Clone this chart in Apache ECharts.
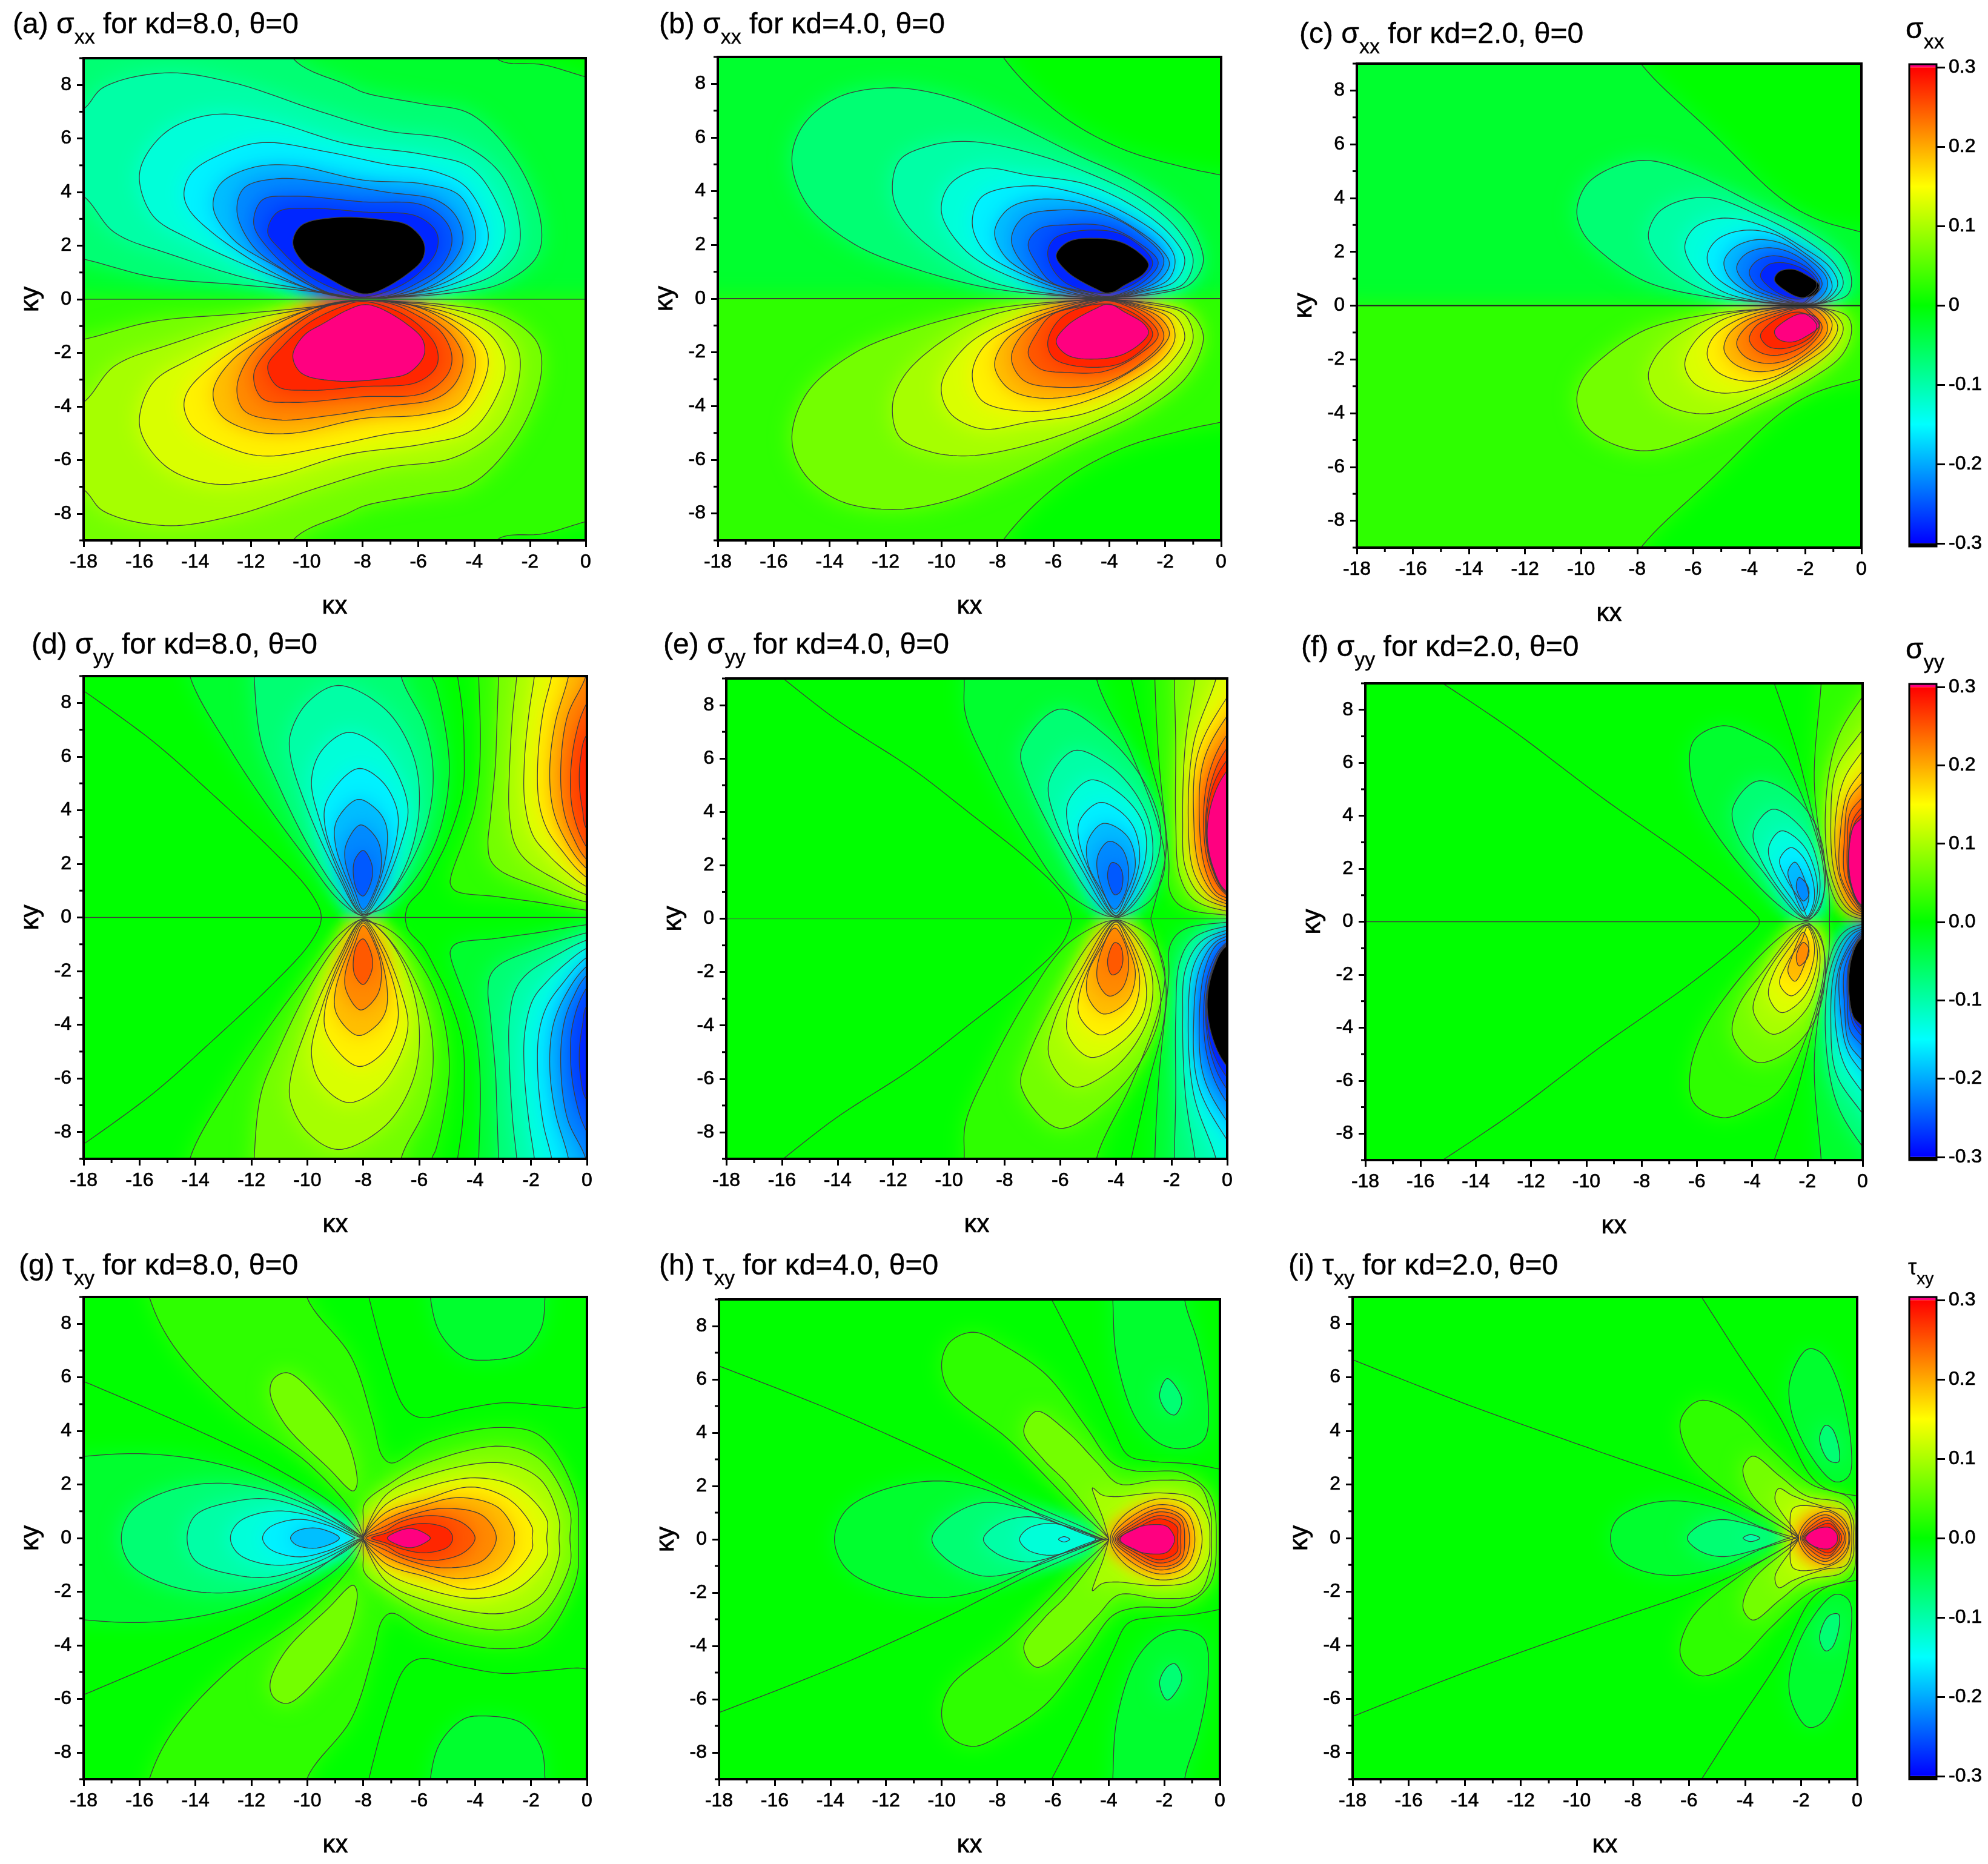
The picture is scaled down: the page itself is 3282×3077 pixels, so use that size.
<!DOCTYPE html>
<html><head><meta charset="utf-8">
<style>html,body{margin:0;padding:0;background:#fff}#c{width:3282px;height:3077px}</style>
<script src="https://cdn.jsdelivr.net/npm/echarts@6/dist/echarts.min.js"></script>
</head><body><div id="c"></div>
<script>
// Tick values
const xTicks=[-18,-16,-14,-12,-10,-8,-6,-4,-2,0];
const xMinor=[-17,-15,-13,-11,-9,-7,-5,-3,-1];
const yTicks=[-8,-6,-4,-2,0,2,4,6,8];
const yMinor=[-9,-7,-5,-3,-1,1,3,5,7,9];
const barTicks=[-0.3,-0.2,-0.1,0,0.1,0.2,0.3];
const contourStep=0.03;
// Contours (upper half, kappa-x, kappa-y). [signed level index, points, joinAcrossAxis]
const sxx8=[
[-1,[[-3.2,9],[-1.5,8.75],[0,8.3],[1.5,7.9],[3,0],[0,0],[-9,0],[-18,0],[-21,0],[-21,11],[-3.6,11]],0],
[-2,[[-10.5,9],[-8.55,8],[-7.9,7.7],[-5.9,7.3],[-4.1,6.9],[-2.4,5],[-1.6,2.8],[-1.75,1.6],[-3,.6],[-5.1,.2],[-7.2,.06],[-8,.02],[-9.9,.3],[-12.5,.55],[-15.5,.83],[-18,1.5],[-20,1.9],[-21,11],[-11,11]],0],
[-3,[[-18,7.1],[-17.3,7.9],[-15.1,8.45],[-12.7,8.1],[-9.5,7],[-7.2,6.3],[-4.7,5.9],[-3.1,4.75],[-2.4,3],[-2.45,1.8],[-3.3,.9],[-5.1,.3],[-6.9,.09],[-7.9,.02],[-9.25,.24],[-12,.75],[-14.8,1.65],[-16.9,2.5],[-18,3.85],[-20,5],[-20,6]],0],
[-4,[[-16,4.45],[-15.8,5.3],[-14.9,6.35],[-13.3,6.9],[-11.3,6.65],[-8.55,5.8],[-5.8,5.4],[-4.1,4.9],[-3.1,3.4],[-2.9,2.4],[-3.4,1.35],[-4.8,.55],[-6.75,.13],[-8,.02],[-9.4,.24],[-11.3,.9],[-14.1,2.2],[-15.5,3.1]],0],
[-5,[[-14.4,4],[-14.1,4.75],[-13.1,5.4],[-11.6,5.85],[-9.25,5.5],[-7.2,5.05],[-5.35,4.75],[-4.25,4.15],[-3.5,2.5],[-3.7,1.65],[-4.8,.75],[-6.5,.16],[-8,.02],[-9.5,.25],[-11.3,1.05],[-13.4,2.5],[-14.25,3.4]],0],
[-6,[[-13.35,3.4],[-13.1,4.3],[-12,4.9],[-10.5,5],[-8,4.45],[-5.8,4.3],[-4.5,3.85],[-3.95,2.4],[-4.25,1.5],[-5.35,.6],[-6.6,.13],[-8,.03],[-9.4,.3],[-11.05,1.2],[-12.6,2.2]],0],
[-7,[[-12.5,3.25],[-12.25,4.15],[-11.05,4.5],[-9.25,4.35],[-7.15,4],[-5.35,3.7],[-4.65,3.1],[-4.4,2.2],[-4.8,1.35],[-5.8,.55],[-6.9,.13],[-8,.04],[-9.25,.22],[-10.5,.9],[-11.9,1.95]],0],
[-8,[[-11.9,2.8],[-11.6,3.7],[-10.5,3.85],[-8,3.64],[-5.8,3.5],[-4.95,2.8],[-4.8,2.1],[-5.2,1.2],[-6.05,.6],[-7,.16],[-8,.05],[-9.1,.2],[-10.2,.8],[-11.3,1.8]],0],
[-9,[[-11.4,2.5],[-11.05,3.25],[-9.95,3.4],[-8,3.26],[-6.05,3.1],[-5.35,2.5],[-5.35,1.8],[-5.9,1.05],[-6.75,.45],[-8,.08],[-8.8,.3],[-9.95,.9],[-10.9,1.8]],0],
[-10,[[-10.5,2.1],[-10.2,2.75],[-8.95,3.05],[-7.15,2.95],[-6.35,2.75],[-5.8,2.1],[-5.85,1.5],[-6.45,.9],[-7.45,.3],[-7.95,.2],[-8.5,.38],[-9.4,.9],[-10.1,1.35]],0]
];
const sxx4=[
[-1,[[-7.8,9],[-5.8,6.9],[-3.6,5.6],[-1.35,4.9],[0,4.6],[1.5,4.3],[3,0],[0,0],[-9,0],[-18,0],[-21,0],[-21,11],[-8.8,11]],0],
[-2,[[-15.35,5.15],[-14.95,6.45],[-13.7,7.5],[-11.75,7.85],[-9.7,7.5],[-7.6,6.6],[-5.25,5.4],[-3,4.3],[-1.35,3.05],[-.75,2],[-.65,1.3],[-1.1,.55],[-2.2,.2],[-3.85,.04],[-4.1,.02],[-5.5,.09],[-8.3,.4],[-11.05,1.15],[-13.15,2.05],[-14.8,3.5]],0],
[-3,[[-11.75,3.95],[-11.5,5.15],[-10.4,5.7],[-9,5.85],[-6.9,5.45],[-4.8,4.7],[-2.75,3.65],[-1.5,2.5],[-1,1.45],[-1.35,.55],[-2.45,.23],[-4,.03],[-5.8,.15],[-8.3,.65],[-10.2,1.75],[-11.35,2.9]],0],
[-4,[[-10,3.2],[-9.7,4.25],[-8.55,4.85],[-6.9,4.6],[-4.8,4.25],[-3,3.35],[-1.8,2.35],[-1.3,1.45],[-1.65,.65],[-2.75,.27],[-4,.03],[-5.5,.2],[-7.6,.85],[-9.1,1.75]],0],
[-5,[[-8.9,2.8],[-8.55,3.8],[-6.9,4.2],[-5.25,3.95],[-3.45,3.2],[-2.05,2.2],[-1.65,1.45],[-1.9,.7],[-3,.25],[-4,.04],[-5.25,.2],[-7.2,.95],[-8.45,1.75]],0],
[-6,[[-8.1,2.5],[-7.6,3.35],[-6.5,3.7],[-4.8,3.5],[-3.3,2.75],[-2.2,1.9],[-1.85,1.3],[-2.2,.7],[-3.15,.25],[-4,.05],[-5.1,.23],[-6.9,.95],[-7.75,1.6]],0],
[-7,[[-7.5,2.25],[-7.05,3.05],[-5.8,3.3],[-4.25,3.15],[-3,2.5],[-2.05,1.45],[-2.45,.7],[-4,.06],[-4.95,.23],[-6.35,.7],[-7.2,1.45]],0],
[-8,[[-6.9,2.05],[-6.5,2.6],[-5.5,2.75],[-4.15,2.7],[-2.9,2.05],[-2.25,1.35],[-2.75,.65],[-4,.08],[-4.8,.25],[-6.05,.6],[-6.6,1.3]],0],
[-9,[[-6.2,1.75],[-5.95,2.25],[-4.8,2.55],[-3.45,2.35],[-2.45,1.35],[-2.9,.7],[-4.15,.2],[-5.5,.55],[-6.05,1.15]],0],
[-10,[[-5.9,1.6],[-5.5,2.1],[-4.65,2.25],[-3.45,2.05],[-2.6,1.3],[-2.75,.95],[-3.45,.5],[-4,.2],[-4.55,.4],[-5.5,1]],0]
];
const sxx2=[
[-1,[[-7.87,9],[-5.3,6.4],[-2.95,4.05],[-1.67,3.25],[0,2.73],[1.5,2.3],[3,0],[0,0],[-9,0],[-18,0],[-21,0],[-21,11],[-9,11]],0],
[-2,[[-10.15,3.55],[-9.8,4.5],[-8.85,5.15],[-7.65,5.4],[-6.1,4.95],[-3.75,3.75],[-1.85,2.75],[-.7,1.85],[-.35,.95],[-.5,.4],[-1.35,.1],[-2.05,.02],[-2.95,.09],[-5.3,.3],[-7.7,.9],[-9.3,2],[-9.95,2.75]],0],
[-3,[[-7.6,2.65],[-7.25,3.45],[-6.45,3.9],[-5.3,4],[-3.75,3.4],[-2,2.45],[-.95,1.55],[-.65,.8],[-1.05,.25],[-2.05,.03],[-3.75,.15],[-5.3,.45],[-6.75,1.25],[-7.4,2]],0],
[-4,[[-6.3,2.2],[-5.95,2.9],[-5,3.25],[-3.6,3],[-2.15,2.2],[-1.1,1.4],[-.85,.75],[-1.35,.15],[-2.05,.04],[-3.6,.15],[-5,.55],[-5.95,1.35]],0],
[-5,[[-5.5,1.85],[-5.15,2.45],[-4.2,2.8],[-3.1,2.65],[-2.15,2.05],[-1.25,1.25],[-1.05,.65],[-1.45,.15],[-2.05,.05],[-3.45,.2],[-4.55,.6],[-5.3,1.2]],0],
[-6,[[-4.9,1.65],[-4.55,2.15],[-3.75,2.45],[-2.8,2.3],[-1.85,1.7],[-1.25,1.05],[-1.25,.6],[-1.65,.15],[-2.05,.06],[-3.25,.25],[-4.2,.6],[-4.75,1.1]],0],
[-7,[[-4.45,1.4],[-4.15,1.9],[-3.4,2.15],[-2.6,2],[-1.85,1.5],[-1.4,.8],[-1.8,.25],[-2.05,.08],[-3.1,.3],[-4.05,.75]],0],
[-8,[[-4,1.25],[-3.75,1.65],[-3.2,1.85],[-2.45,1.7],[-1.75,1.25],[-1.5,.75],[-1.9,.25],[-2.1,.1],[-2.95,.35],[-3.75,.75]],0],
[-9,[[-3.6,1.1],[-3.35,1.5],[-2.85,1.6],[-2.15,1.4],[-1.7,1.05],[-1.6,.7],[-2.15,.25],[-2.95,.45]],0],
[-10,[[-3.1,.95],[-2.95,1.25],[-2.45,1.35],[-1.9,1.1],[-1.5,.75],[-1.6,.45],[-2.15,.3],[-2.7,.55]],0]
];
const syy8=[
[-1,[[-14.2,9],[-12.75,6.25],[-11.35,4.05],[-10,2.15],[-8.9,.68],[-8.1,.09],[-7.77,.16],[-7.2,.38],[-6.5,.97],[-5.4,2.83],[-4.92,5.54],[-5.4,8.64],[-5.55,9],[-5.7,11],[-14.4,11]],0],
[-2,[[-11.9,9],[-11.65,6.55],[-11.1,5.1],[-10,2.75],[-8.9,.97],[-8,.05],[-7.35,.5],[-6.4,1.85],[-5.7,3.6],[-5.5,5.4],[-5.8,7.15],[-6.65,9],[-6.8,11],[-11.9,11]],0],
[-3,[[-8.9,8.65],[-10,8],[-10.6,6.85],[-10.6,6],[-10,4.05],[-8.9,1.55],[-8,.1],[-7.2,.68],[-6.4,2.15],[-6,4.05],[-6.2,6],[-7.2,7.75]],0],
[-4,[[-8.55,6.9],[-9.5,6.2],[-9.85,5.1],[-9.55,3.6],[-8.75,1.4],[-8,.1],[-7.35,.97],[-6.65,2.75],[-6.4,4.05],[-6.8,5.4],[-7.5,6.4]],0],
[-5,[[-8.2,5.55],[-9.3,4.35],[-9.35,3.3],[-8.6,1.25],[-8,.15],[-7.4,1.1],[-6.8,3],[-6.8,4.05],[-7.35,5.1]],0],
[-6,[[-8.2,4.4],[-8.95,3.6],[-9,2.75],[-8.45,1.1],[-8,.2],[-7.5,1.1],[-7.15,2.6],[-7.2,3.5],[-7.55,4.05]],0],
[-7,[[-8.1,3.45],[-8.6,2.75],[-8.65,2.15],[-8.3,.97],[-8,.3],[-7.55,1.1],[-7.35,2],[-7.5,2.9]],0],
[-8,[[-8,2.5],[-8.3,2.15],[-8.35,1.55],[-8.2,.97],[-8,.8],[-7.7,1.4],[-7.7,2]],0],
[1,[[-3.87,9],[-3.81,6.52],[-3.88,5.02],[-4.06,3.9],[-4.39,2.9],[-4.86,1.54],[-4.88,1.24],[-4.68,.98],[-3.25,.78],[-1.78,.57],[0,.27],[2,.1],[2,11],[-3.9,11]],0],
[2,[[-3.16,9],[-3.23,6.9],[-3.27,5.77],[-3.45,3.73],[-3.54,2.75],[-3.45,2.15],[-3.09,1.74],[-1.78,1.17],[0,.57],[2,.2],[2,11],[-3.1,11]],0],
[3,[[-2.51,9],[-2.65,7.65],[-2.76,5.77],[-2.78,3.89],[-2.58,2.75],[-2.15,2.11],[-1.06,1.39],[0,.84],[2,.3],[2,11],[-2.4,11]],0],
[4,[[-1.88,9],[-2.07,7.65],[-2.24,5.77],[-2.22,4.26],[-1.93,3.06],[-1.42,2.38],[-.7,1.67],[0,1.14],[2,.4],[2,11],[-1.7,11]],0],
[5,[[-1.26,9],[-1.57,7.65],[-1.76,5.77],[-1.71,4.26],[-1.42,3.28],[-.92,2.53],[0,1.48],[2,.5],[2,11],[-1,11]],0],
[6,[[-.66,9],[-1.13,7.27],[-1.33,5.54],[-1.21,4.03],[-.77,2.9],[0,1.81],[2,.5],[2,11],[-.4,11]],0],
[7,[[-.04,9],[-.7,7.5],[-.94,5.39],[-.81,3.89],[-.49,2.98],[0,2.15],[2,.8],[2,11],[.3,11]],0],
[8,[[0,8],[-.41,6.75],[-.59,5.17],[-.49,3.89],[0,2.6],[1.5,1],[1.5,10]],0],
[9,[[0,6.82],[-.23,5.92],[-.27,4.94],[-.16,4.03],[0,3.28],[1,2.5],[1,7.5]],0]
];
const syy8Zero=[[[-18,8.45],[-15.5,6.55],[-13.45,4.65],[-11.35,2.6],[-10,1.1],[-9.55,.3],[-9.5,0]],[[-6.5,0],[-6.4,.45],[-5.85,1.1],[-5.4,1.97],[-4.97,2.9],[-4.45,4.64],[-4.39,6.15],[-4.45,7.65],[-4.63,9]]];
const syy4=[
[-1,[[-9.45,9],[-9.4,7.65],[-8.55,5.6],[-7.15,2.95],[-5.8,1],[-4.4,.13],[-4,.06],[-3.85,.06],[-2.75,.7],[-2.25,1.9],[-2.45,3.4],[-3.45,6.2],[-4.7,9],[-4.8,11],[-9.5,11]],0],
[-2,[[-6.05,7.85],[-7.4,6.3],[-7.15,5.15],[-6.05,2.8],[-4.8,.72],[-4.05,.06],[-3.45,.43],[-2.6,1.9],[-2.4,3.4],[-3,5.15],[-4.4,6.9]],0],
[-3,[[-5.5,6.3],[-6.4,5.15],[-6.2,3.8],[-5.25,1.9],[-4.05,.06],[-3.55,.43],[-2.75,1.9],[-2.75,3.4],[-3.3,4.7],[-4.25,5.75]],0],
[-4,[[-4.9,5.2],[-5.7,4.4],[-5.7,3.4],[-4.8,1.3],[-4,.1],[-3.6,.57],[-2.95,2.2],[-3,3.5],[-3.7,4.55]],0],
[-5,[[-4.6,4.35],[-5.3,3.67],[-5.3,2.8],[-4.65,1.17],[-4,.12],[-3.6,.72],[-3.15,2.2],[-3.35,3.4],[-3.95,4.1]],0],
[-6,[[-4.45,3.57],[-5,2.93],[-5,2.05],[-4.45,.94],[-4,.2],[-3.65,.87],[-3.3,2.05],[-3.6,3.1]],0],
[-7,[[-4.25,2.9],[-4.65,2.35],[-4.6,1.46],[-4.05,.35],[-3.65,1],[-3.55,1.9],[-3.8,2.65]],0],
[-8,[[-4.15,2.1],[-4.3,1.6],[-4.05,.9],[-3.85,1],[-3.75,1.6],[-3.9,2]],0],
[1,[[-2.6,9],[-2.45,5.9],[-2.1,2.2],[-2.05,1],[-1.6,.43],[0,.13],[2,.05],[2,11],[-2.6,11]],0],
[2,[[-1.9,9],[-1.85,6.6],[-1.85,3.67],[-1.7,1.6],[-1.2,.72],[0,.28],[2,.1],[2,11],[-1.9,11]],0],
[3,[[-1.15,9],[-1.5,6.6],[-1.6,3.67],[-1.5,1.9],[-.95,.87],[0,.43],[2,.1],[2,11],[-.9,11]],0],
[4,[[-.4,9],[-1.2,6.6],[-1.4,3.67],[-1.2,1.75],[-.65,.87],[0,.55],[2,.1],[2,11],[0,11]],0],
[5,[[0,8.3],[-1.05,6.2],[-1.2,3.67],[-1,1.9],[-.5,.95],[0,.65],[2,.1],[2,11]],0],
[6,[[0,7.6],[-.85,5.9],[-1,3.67],[-.8,1.9],[-.4,1],[0,.77],[2,.1],[2,10]],0],
[7,[[0,6.9],[-.65,5.45],[-.85,3.67],[-.63,1.9],[0,.87],[2,.2],[2,9]],0],
[8,[[0,6.4],[-.55,5.2],[-.78,3.4],[-.55,1.9],[0,.92],[2,.3],[2,8.5]],0],
[9,[[0,5.95],[-.55,4.85],[-.75,3.3],[-.52,1.9],[0,.96],[2,.4],[2,8]],0],
[10,[[0,5.55],[-.5,4.55],[-.72,3.2],[-.5,1.9],[0,1],[2,.5],[2,7.5]],0]
];
const syy4Zero=[[[-15.95,9],[-14.1,7.5],[-11.3,5.6],[-9.25,3.95],[-7.15,2.2],[-5.9,.87],[-5.6,.06],[-5.6,0]],[[-2.75,0],[-2.43,1.3],[-2.2,2.5],[-2.3,3.97],[-2.87,6.33],[-3.45,9]]];
const syy2=[
[-1,[[-5.05,7.4],[-6.1,6.85],[-6.25,5.75],[-5.75,4.1],[-4,1.6],[-2.55,.25],[-2,.05],[-1.75,.25],[-1.4,1.1],[-1.6,2.95],[-3,6.35],[-3.85,6.95]],0],
[-2,[[-3.85,5.3],[-4.7,4.28],[-4.5,3.2],[-3.5,1.75],[-2.4,.33],[-2,.1],[-1.6,.4],[-1.35,1.6],[-1.65,3.55],[-2.7,4.9]],0],
[-3,[[-3.25,4.25],[-3.95,3.4],[-3.75,2.5],[-2.85,1],[-2,.13],[-1.6,.85],[-1.6,2.05],[-2.1,3.4]],0],
[-4,[[-2.95,3.43],[-3.4,2.8],[-3.2,1.9],[-2.55,.85],[-2,.15],[-1.65,1],[-1.75,2],[-2.2,2.95]],0],
[-5,[[-2.6,2.8],[-3,2.35],[-2.75,1.6],[-2.2,.7],[-2,.2],[-1.75,.85],[-1.85,1.75],[-2.2,2.5]],0],
[-6,[[-2.45,2.25],[-2.7,1.9],[-2.55,1.3],[-2.15,.4],[-1.95,.85],[-2.1,1.6]],0],
[-7,[[-2.3,1.67],[-2.4,1.3],[-2.15,.78],[-1.95,1],[-2,1.37]],0],
[1,[[-1.5,9],[-1.75,5.3],[-1.4,2.35],[-1,.85],[-.6,.33],[0,.1],[2,.03],[2,11],[-1.4,11]],0],
[2,[[0,8.5],[-.95,6.8],[-1.35,4.1],[-1.15,1.75],[-.6,.55],[0,.2],[2,.05],[2,11]],0],
[3,[[0,7.25],[-.95,5.75],[-1.15,3.8],[-1,1.75],[-.45,.55],[0,.28],[2,.08],[2,10]],0],
[4,[[0,6.45],[-.7,5.3],[-1,3.55],[-.85,1.75],[-.3,.6],[0,.35],[2,.1],[2,9]],0],
[5,[[0,5.7],[-.55,4.85],[-.8,3.4],[-.8,1.75],[-.25,.67],[0,.4],[2,.1],[2,8]],0],
[6,[[0,5.25],[-.5,4.57],[-.65,3.23],[-.65,1.75],[-.2,.7],[0,.45],[2,.1],[2,7.5]],0],
[7,[[0,4.7],[-.45,4.1],[-.55,3.1],[-.5,1.6],[-.15,.72],[0,.5],[2,.1],[2,7]],0],
[8,[[0,4.35],[-.35,3.83],[-.5,2.8],[-.45,1.45],[0,.52],[2,.1],[2,6.5]],0],
[9,[[0,4.1],[-.3,3.7],[-.5,2.65],[-.4,1.37],[0,.55],[2,.1],[2,6]],0],
[10,[[0,3.95],[-.35,3.55],[-.5,2.2],[-.35,1.15],[0,.6],[2,.1],[2,6]],0]
];
const syy2Zero=[[[-15.2,9],[-12.7,7.25],[-9.45,4.7],[-6.25,2.35],[-4.3,.7],[-3.75,.1],[-3.75,0]],[[-1.2,0],[-1.2,.8],[-1.3,1.8],[-1.8,4],[-2.4,6.5],[-3.2,9]]];
const txy8=[
[1,[[-8,.02],[-8.3,.84],[-9.95,2.77],[-12.7,4.84],[-14.8,7.2],[-15.65,9],[-16,11],[-10.2,11],[-10.02,9],[-8.43,6.76],[-7.67,4.4],[-7.32,3.06],[-6.98,2.8],[-5.66,3.58],[-3.1,4.13],[-1.65,3.8],[-.4,1.58],[-.31,0]],1],
[2,[[-11.33,5.43],[-11.2,5.95],[-10.7,6.17],[-9.55,5.13],[-8.57,3.65],[-8.22,2.03],[-8.36,1.76],[-9.25,2.62],[-10.8,4.25]],0],
[2,[[-8,.02],[-8,.7],[-7.95,1.29],[-7.05,2.03],[-5.8,2.77],[-3.03,3.43],[-1.65,2.91],[-.61,1],[-.61,0]],1],
[3,[[-8,.03],[-7.2,1.6],[-5.8,2.32],[-3.03,2.81],[-1.65,2.17],[-1,.7],[-1,0]],1],
[4,[[-8,.03],[-7.2,1.25],[-5.8,1.88],[-4,2.25],[-2.48,1.88],[-1.44,.7],[-1.44,0]],1],
[5,[[-8,.03],[-7.2,.95],[-5.8,1.43],[-4.14,1.91],[-2.76,1.43],[-1.96,.4],[-1.96,0]],1],
[6,[[-8,.03],[-7.2,.68],[-6.08,1.14],[-4.56,1.51],[-3.17,1.14],[-2.6,.25],[-2.6,0]],1],
[7,[[-7.95,0],[-7.2,.45],[-6.35,.84],[-5.11,1.11],[-3.73,.84],[-3.24,0]],1],
[8,[[-7.9,0],[-7.2,.28],[-6.63,.62],[-5.52,.84],[-4.42,.55],[-4,0]],1],
[9,[[-7.7,0],[-7.2,.18],[-6.63,.4],[-5.8,.55],[-4.97,.33],[-4.8,0]],1],
[10,[[-7.14,0],[-6.77,.25],[-6.29,.36],[-5.8,.18],[-5.6,0]],1],
[-1,[[-8,.01],[-8.6,.4],[-10,1.4],[-12,2.4],[-14,2.95],[-16,3.15],[-18,3.05],[-20,2.8],[-20,0]],1],
[-2,[[-16.65,0],[-16.3,1],[-15,1.75],[-13.25,2.05],[-11.35,1.75],[-9.3,.9],[-8.15,.13],[-8,0]],1],
[-3,[[-14.3,0],[-14,.85],[-12.7,1.35],[-11.3,1.45],[-9.55,.85],[-8.2,.1],[-8.05,0]],1],
[-4,[[-12.75,0],[-12.45,.6],[-11.3,1],[-9.95,.85],[-8.3,.1],[-8.1,0]],1],
[-5,[[-11.6,0],[-11.35,.4],[-10.35,.7],[-9.25,.47],[-8.35,.03],[-8.3,0]],1],
[-6,[[-10.6,0],[-10.4,.25],[-9.65,.37],[-8.85,0]],1],
[-1,[[-5.6,9],[-5.25,7.65],[-4.42,6.76],[-3.73,6.64],[-2.34,6.9],[-1.65,7.8],[-1.5,9],[-1.5,11],[-5.6,11]],0]
];
const txy8Zero=[[[-18,5.85],[-14.1,4.1],[-11.3,2.7],[-9,1.2],[-8.2,.3],[-8,0]],[[-7.8,9],[-7.18,6.6],[-6.5,4.84],[-5.95,4.5],[-4.5,4.8],[-3,5.05],[-1.5,4.95],[-.3,4.85],[0,4.9]]];
const txy4=[
[1,[[-4,.02],[-5.2,1.22],[-7.6,3.75],[-9.7,5.54],[-10,6.58],[-9.7,7.4],[-8.85,7.77],[-7.6,7.17],[-6.2,6.13],[-4.8,4.2],[-3.85,2.86],[-3,2.56],[-1.35,2.49],[-.36,1.67],[-.13,0]],1],
[2,[[-4,.02],[-5.5,2.11],[-6.35,3],[-7.05,4.05],[-6.6,4.8],[-5.5,4.05],[-4.4,2.86],[-3.63,2.08],[-2.17,2.22],[-.78,2.04],[-.36,1.07],[-.3,0]],1],
[3,[[-4,.02],[-4.2,.77],[-4.47,1.52],[-4.58,1.93],[-4.25,1.67],[-3.78,1.6],[-2.17,1.74],[-.92,1.52],[-.43,.77],[-.36,0]],1],
[4,[[-3.94,0],[-3.42,.92],[-2.17,1.52],[-1.06,1.22],[-.64,0]],1],
[5,[[-3.88,0],[-3.28,.77],[-2.17,1.3],[-1.2,1],[-.9,0]],1],
[6,[[-3.82,0],[-3.22,.62],[-2.17,1.15],[-1.34,.85],[-1.09,0]],1],
[7,[[-3.76,0],[-3.15,.55],[-2.17,1.03],[-1.41,.77],[-1.27,0]],1],
[8,[[-3.7,0],[-3.08,.48],[-2.17,.89],[-1.48,.63],[-1.41,0]],1],
[9,[[-3.65,0],[-3.02,.4],[-2.17,.77],[-1.55,.48],[-1.53,0]],1],
[10,[[-3.59,0],[-3.08,.4],[-2.45,.55],[-1.9,.48],[-1.64,.1],[-1.64,0]],1],
[-1,[[-13.85,0],[-13.45,1.07],[-12.2,1.82],[-10.1,2.19],[-8.3,1.82],[-6.2,.77],[-4.4,.03],[-4.1,0]],1],
[-2,[[-10.35,0],[-9.8,.77],[-8.55,1.37],[-7.18,1.19],[-5.5,.55],[-4.25,.03],[-4.15,0]],1],
[-3,[[-8.5,0],[-8,.55],[-6.9,.85],[-5.5,.48],[-4.3,.03],[-4.2,0]],1],
[-4,[[-7.2,0],[-6.9,.4],[-6.07,.6],[-5.1,.33],[-4.47,0]],1],
[-5,[[-5.8,0],[-5.6,.1],[-5.4,0]],1],
[-1,[[-3.85,9],[-3.7,6.73],[-3,4.5],[-2.17,3.6],[-1.35,3.4],[-.57,3.75],[-.43,5.24],[-.78,7.32],[-1.27,9],[-1.3,11],[-3.9,11]],0],
[-2,[[-1.9,6.03],[-2.17,5.39],[-1.9,4.79],[-1.62,4.67],[-1.37,5.16],[-1.55,5.68]],0]
];
const txy4Zero=[[[-18,6.5],[-13.85,4.8],[-9.7,2.85],[-6.9,1.37],[-4.8,.4],[-4.1,.03],[-4,0]],[[-6.05,9],[-4.8,6.43],[-3.85,4.2],[-3.3,3.15],[-2.45,2.93],[-1.05,2.83],[0,2.63]]];
const txy2=[
[1,[[-2.13,.03],[-4.04,1.29],[-5.95,3.06],[-6.3,4.39],[-5.63,5.13],[-4.36,4.68],[-3.09,3.35],[-1.66,2.02],[-.22,1.43],[-.06,0]],1],
[2,[[-2.1,.03],[-2.29,.25],[-3.72,1.58],[-4.07,2.61],[-3.72,3.06],[-2.77,2.32],[-1.82,1.58],[-.54,1.29],[-.15,.69],[-.13,0]],1],
[3,[[-2.1,.03],[-2.21,.25],[-2.93,1.43],[-2.8,1.85],[-2.29,1.58],[-1.18,1.17],[-.38,.99],[-.19,0]],1],
[4,[[-2.1,.03],[-2.29,.03],[-2.29,1.11],[-1.18,1.11],[-.47,.69],[-.26,0]],1],
[5,[[-2.1,0],[-1.74,.69],[-1.02,.99],[-.38,.4],[-.3,0]],1],
[6,[[-2.02,0],[-1.66,.62],[-1.1,.87],[-.55,.47],[-.4,0]],1],
[7,[[-1.97,0],[-1.58,.52],[-1.1,.77],[-.63,.4],[-.45,0]],1],
[8,[[-1.93,0],[-1.58,.4],[-1,.66],[-.7,.33],[-.55,0]],1],
[9,[[-1.89,0],[-1.53,.33],[-1,.55],[-.7,.25],[-.62,0]],1],
[10,[[-1.84,0],[-1.55,.3],[-1,.4],[-.75,.2],[-.7,0]],1],
[-1,[[-8.8,0],[-8.57,.69],[-7.7,1.21],[-6.43,1.39],[-4.84,1.06],[-3.4,.4],[-2.28,.03],[-2.2,0]],1],
[-2,[[-6.06,0],[-5.63,.47],[-4.84,.69],[-3.72,.47],[-2.53,.03],[-2.4,0]],1],
[-3,[[-4.07,0],[-3.8,.13],[-3.47,0]],1],
[-1,[[-1.77,7.05],[-2.37,6],[-2.37,4.83],[-1.73,3.2],[-.78,2.1],[-.3,2.32],[-.22,3.5],[-.7,5.86],[-1.26,6.9]],0],
[-2,[[-1.13,4.21],[-1.34,3.72],[-1.02,2.91],[-.67,2.84],[-.65,3.35],[-.9,4.09]],0]
];
const txy2Zero=[[[-18,6.66],[-13.9,4.98],[-9.13,3.2],[-5.15,1.73],[-2.77,.47],[-2.13,.03],[-2.1,0]],[[-5.55,9],[-4.36,7.05],[-2.77,4.53],[-1.66,2.32],[-1.02,1.8],[0,1.58]]];

// Layout (pixels) -- kept apart from the data
const panels=[
 {t:'(a) σ',sub:'xx',r:' for κd=8.0, θ=0',d:sxx8,z:[],sym:0,axis:'#2f9a2f',l:138,tp:96,w:829,h:796,tx:21,ty:18},
 {t:'(b) σ',sub:'xx',r:' for κd=4.0, θ=0',d:sxx4,z:[],sym:0,axis:'#3f3f3f',l:1185,tp:94,w:831,h:798,tx:1088,ty:18},
 {t:'(c) σ',sub:'xx',r:' for κd=2.0, θ=0',d:sxx2,z:[],sym:0,axis:'#202020',l:2240,tp:105,w:833,h:799,tx:2145,ty:34},
 {t:'(d) σ',sub:'yy',r:' for κd=8.0, θ=0',d:syy8,z:syy8Zero,sym:0,axis:'#3f3f3f',l:138,tp:1116,w:831,h:797,tx:52,ty:1042},
 {t:'(e) σ',sub:'yy',r:' for κd=4.0, θ=0',d:syy4,z:syy4Zero,sym:0,axis:'#2f9a2f',l:1199,tp:1120,w:827,h:793,tx:1095,ty:1042},
 {t:'(f) σ',sub:'yy',r:' for κd=2.0, θ=0',d:syy2,z:syy2Zero,sym:0,axis:'#3f3f3f',l:2254,tp:1128,w:821,h:787,tx:2148,ty:1046},
 {t:'(g) τ',sub:'xy',r:' for κd=8.0, θ=0',d:txy8,z:txy8Zero,sym:1,axis:null,l:138,tp:2141,w:831,h:796,tx:31,ty:2067},
 {t:'(h) τ',sub:'xy',r:' for κd=4.0, θ=0',d:txy4,z:txy4Zero,sym:1,axis:null,l:1187,tp:2145,w:827,h:792,tx:1088,ty:2067},
 {t:'(i) τ',sub:'xy',r:' for κd=2.0, θ=0',d:txy2,z:txy2Zero,sym:1,axis:null,l:2233,tp:2141,w:833,h:796,tx:2127,ty:2067}
];
const bars=[
 {t:'σ',sub:'xx',tp:106,h:796,fmt0:'0',tx:3146,ty:26,fs:48,ss:34},
 {t:'σ',sub:'yy',tp:1129,h:786,fmt0:'0.0',tx:3146,ty:1050,fs:48,ss:34},
 {t:'τ',sub:'xy',tp:2141,h:796,fmt0:'0.0',tx:3150,ty:2076,fs:36,ss:28}
];
const FONT='"Liberation Sans",Arial,sans-serif';
const lineColor='#3f3f3f';
const labelStyle={fontFamily:FONT,fontSize:32,color:'#000',textBorderColor:'#000',textBorderWidth:0.7};
const nameStyle={fontFamily:FONT,fontSize:42,color:'#000',textBorderColor:'#000',textBorderWidth:0.7};

function cmap(v){
  const a=Math.abs(v)/0.15;
  let r=0,g=0,b=0;
  if(v>=0){ if(a<=1){r=255*a;g=255;} else {r=255;g=255*Math.max(0,2-a);} }
  else { if(a<=1){g=255;b=255*a;} else {g=255*Math.max(0,2-a);b=255;} }
  return 'rgb('+Math.round(r)+','+Math.round(g)+','+Math.round(b)+')';
}
function fillFor(k){
  if(k>=10) return '#ff0080';
  if(k<=-10) return '#000000';
  const n=Math.abs(k);
  const v=(n===1?0.9:n+0.25)*contourStep*Math.sign(k);
  return cmap(v);
}
function expand(list,sym){
  const out=[];
  list.forEach(function(c){
    const k=c[0],p=c[1],join=c[2];
    const m=p.map(function(q){return [q[0],-q[1]];});
    if(join){
      const back=m.slice().reverse().filter(function(q){return q[1]!==0;});
      out.push({k:k,pts:p.concat(back)});
    } else {
      out.push({k:k,pts:p});
      out.push({k:sym?k:-k,pts:m});
    }
  });
  out.sort(function(a,b){return Math.abs(a.k)-Math.abs(b.k);});
  return out;
}
// Rounds a drawn outline (pixel path only) the way a smooth line option would.
function roundPath(P,closed){
  const N=P.length,out=[],segs=closed?N:N-1,S=10;
  const at=function(i){return closed?P[(i+N)%N]:P[Math.max(0,Math.min(N-1,i))];};
  const gap=function(a,b){return Math.max(1e-3,Math.sqrt(Math.hypot(a[0]-b[0],a[1]-b[1])));};
  for(let i=0;i<segs;i++){
    const p0=at(i-1),p1=at(i),p2=at(i+1),p3=at(i+2);
    const t0=0,t1=t0+gap(p0,p1),t2=t1+gap(p1,p2),t3=t2+gap(p2,p3);
    for(let j=0;j<S;j++){
      const t=t1+(t2-t1)*j/S,q=[0,0];
      for(let d=0;d<2;d++){
        const a1=((t1-t)*p0[d]+(t-t0)*p1[d])/(t1-t0),a2=((t2-t)*p1[d]+(t-t1)*p2[d])/(t2-t1),a3=((t3-t)*p2[d]+(t-t2)*p3[d])/(t3-t2);
        const b1=((t2-t)*a1+(t-t0)*a2)/(t2-t0),b2=((t3-t)*a2+(t-t1)*a3)/(t3-t1);
        q[d]=((t2-t)*b1+(t-t1)*b2)/(t2-t1);
      }
      out.push(q);
    }
  }
  if(!closed) out.push(P[N-1]);
  return out;
}

const option={animation:false,backgroundColor:'#fff',title:[],grid:[],xAxis:[],yAxis:[],series:[]};
const tick=function(vals,len){return {show:true,length:len,inside:false,lineStyle:{color:'#000',width:3},customValues:vals};};
function addTitle(x,y,main,sub,rest,fs,ss){
  const rich={m:{fontFamily:FONT,fontSize:fs,color:'#000',lineHeight:fs+14,verticalAlign:'top',textBorderColor:'#000',textBorderWidth:0.4},
          s:{fontFamily:FONT,fontSize:ss,color:'#000',lineHeight:fs+14,verticalAlign:'bottom',padding:[fs*0.34,0,0,0],textBorderColor:'#000',textBorderWidth:0.4}};
  option.title.push({left:x,top:y,padding:0,textStyle:{fontFamily:FONT,fontWeight:'normal',color:'#000',fontSize:fs,rich:rich},
    text:'{m|'+main+'}{s|'+sub+'}'+(rest?'{m|'+rest+'}':'')});
}
panels.forEach(function(p,i){
  addTitle(p.tx,p.ty,p.t,p.sub,p.r,48,34);
  option.grid.push({left:p.l,top:p.tp,width:p.w,height:p.h,show:true,backgroundColor:'#00ff00',borderWidth:0});
  option.xAxis.push({gridIndex:i,type:'value',min:-18,max:0,position:'bottom',name:'κx',nameLocation:'middle',nameGap:88,
    nameTextStyle:nameStyle,axisLine:{show:false,onZero:false},splitLine:{show:false},axisTick:tick(xTicks,11),
    axisLabel:Object.assign({show:true,margin:20,customValues:xTicks,formatter:function(v){return String(v);}},labelStyle)});
  option.yAxis.push({gridIndex:i,type:'value',min:-9,max:9,position:'left',name:'κy',nameLocation:'middle',nameGap:66,
    nameTextStyle:nameStyle,axisLine:{show:false,onZero:false},splitLine:{show:false},axisTick:tick(yTicks,11),
    axisLabel:Object.assign({show:true,margin:20,customValues:yTicks,formatter:function(v){return String(v);}},labelStyle)});
  const items=expand(p.d,p.sym);
  const fills=items.map(function(it){return {pts:it.pts,k:it.k,mode:'fill'};});
  const lines=items.map(function(it){return {pts:it.pts,k:it.k,mode:'line'};});
  const zeros=p.z.map(function(q){return {pts:q,mode:'open',c:lineColor};});
  const mirroredZeros=p.z.map(function(q){return {pts:q.map(function(a){return [a[0],-a[1]];}),mode:'open',c:lineColor};});
  const axisLine=p.axis?[{pts:[[-18,0],[0,0]],mode:'open',c:p.axis}]:[];
  const all=fills.concat(lines,zeros,mirroredZeros,axisLine);
  option.series.push({type:'custom',xAxisIndex:i,yAxisIndex:i,clip:true,silent:true,z:3,
    coordinateSystem:'cartesian2d',data:all.map(function(_,n){return [n];}),encode:{x:-1,y:-1},
    renderItem:function(params,api){
      const it=all[params.dataIndex];
      const px=it.pts.map(function(q){return api.coord(q);});
      if(it.mode==='fill'){
        const col=fillFor(it.k);
        return {type:'polygon',shape:{points:roundPath(px,true)},style:{fill:col,stroke:null,shadowBlur:Math.abs(it.k)>=10?0:36,shadowColor:col}};
      }
      if(it.mode==='line'){
        return {type:'polygon',shape:{points:roundPath(px,true)},style:{fill:null,stroke:lineColor,lineWidth:1.3}};
      }
      return {type:'polyline',shape:{points:roundPath(px,false)},style:{fill:null,stroke:it.c,lineWidth:1.3}};
    }});
  option.series.push({type:'custom',xAxisIndex:i,yAxisIndex:i,clip:false,silent:true,z:6,
    coordinateSystem:'cartesian2d',data:[[-18,-9,0,9]],encode:{x:[0,2],y:[1,3]},
    renderItem:function(params,api){
      const a=api.coord([-18,9]),b=api.coord([0,-9]);
      const kids=[{type:'rect',shape:{x:a[0],y:a[1],width:b[0]-a[0],height:b[1]-a[1]},style:{fill:null,stroke:'#000',lineWidth:4}}];
      xMinor.forEach(function(v){const c=api.coord([v,-9]);kids.push({type:'line',shape:{x1:c[0],y1:c[1],x2:c[0],y2:c[1]+7},style:{stroke:'#000',lineWidth:3}});});
      yMinor.forEach(function(v){const c=api.coord([-18,v]);kids.push({type:'line',shape:{x1:c[0],y1:c[1],x2:c[0]-7,y2:c[1]},style:{stroke:'#000',lineWidth:3}});});
      return {type:'group',children:kids};
    }});
});
bars.forEach(function(b,j){
  const i=panels.length+j;
  addTitle(b.tx,b.ty,b.t,b.sub,'',b.fs,b.ss);
  option.grid.push({left:3152,top:b.tp,width:45,height:b.h,show:false});
  option.xAxis.push({gridIndex:i,type:'value',min:0,max:1,show:false});
  option.yAxis.push({gridIndex:i,type:'value',min:-0.304,max:0.304,position:'right',axisLine:{show:false,onZero:false},splitLine:{show:false},
    axisTick:{show:true,length:14,lineStyle:{color:'#000',width:3},customValues:barTicks},
    axisLabel:Object.assign({show:true,margin:20,customValues:barTicks,
      formatter:function(v){return Math.abs(v)<1e-9?b.fmt0:String(v);}},labelStyle)});
  const gstops=barTicks.concat([-0.15,0.15]).sort(function(x,y){return x-y;});
  option.series.push({type:'custom',xAxisIndex:i,yAxisIndex:i,clip:false,silent:true,z:3,
    coordinateSystem:'cartesian2d',data:[[0,-0.304,1,0.304]],encode:{x:[0,2],y:[1,3]},
    renderItem:function(params,api){
      const a=api.coord([0,0.304]),c=api.coord([1,-0.304]);
      const t=api.coord([0,0.3]),u=api.coord([1,-0.3]);
      return {type:'group',children:[
        {type:'rect',shape:{x:a[0],y:a[1],width:c[0]-a[0],height:t[1]-a[1]},style:{fill:'#ff0080'}},
        {type:'rect',shape:{x:a[0],y:u[1],width:c[0]-a[0],height:c[1]-u[1]},style:{fill:'#000'}},
        {type:'rect',shape:{x:a[0],y:t[1],width:c[0]-a[0],height:u[1]-t[1]},style:{fill:new echarts.graphic.LinearGradient(0,0,0,1,
          gstops.slice().reverse().map(function(v){return {offset:(0.3-v)/0.6,color:cmap(v)};}))}},
        {type:'rect',shape:{x:a[0],y:a[1],width:c[0]-a[0],height:c[1]-a[1]},style:{fill:null,stroke:'#000',lineWidth:3}}
      ]};
    }});
});
const chart=echarts.init(document.getElementById('c'),null,{renderer:'canvas',width:3282,height:3077});
chart.setOption(option);
</script></body></html>
